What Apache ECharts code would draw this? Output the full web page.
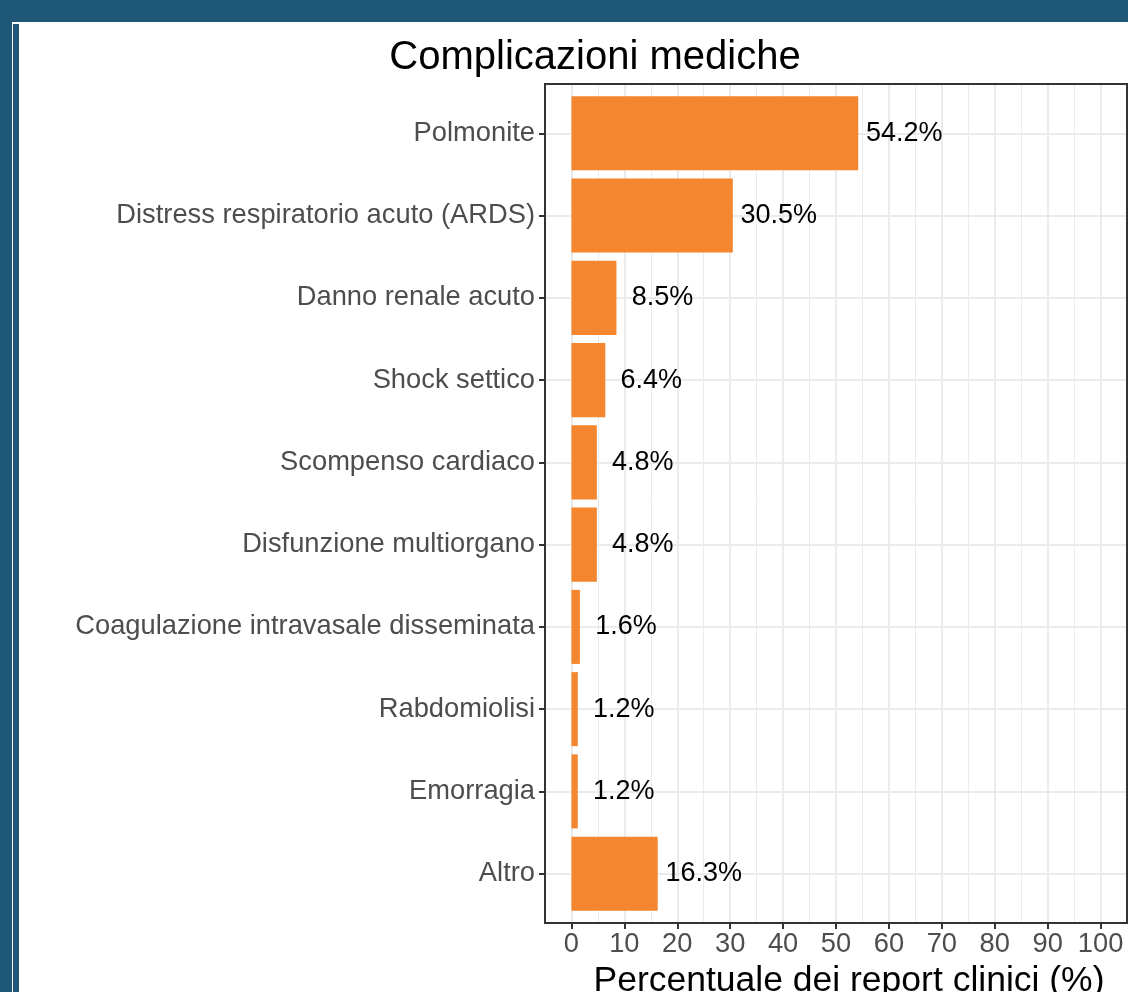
<!DOCTYPE html>
<html>
<head>
<meta charset="utf-8">
<script src="https://cdn.jsdelivr.net/npm/echarts@6/dist/echarts.min.js"></script>
<style>
  html, body { margin: 0; padding: 0; width: 1128px; height: 992px; overflow: hidden; background: #1e5678; }
  #frame { position: absolute; left: 12px; top: 22px; right: 0; bottom: 0; background: #ffffff; }
  #stripe { position: absolute; left: 13px; top: 24px; width: 6px; bottom: 0; background: #1e5678; }
  #chart { position: absolute; left: 0; top: 0; width: 1128px; height: 992px; }
</style>
</head>
<body>
<div id="frame"></div>
<div id="stripe"></div>
<div id="chart"></div>
<script>
const categories = [
  "Polmonite",
  "Distress respiratorio acuto (ARDS)",
  "Danno renale acuto",
  "Shock settico",
  "Scompenso cardiaco",
  "Disfunzione multiorgano",
  "Coagulazione intravasale disseminata",
  "Rabdomiolisi",
  "Emorragia",
  "Altro"
];
const values = [54.2, 30.5, 8.5, 6.4, 4.8, 4.8, 1.6, 1.2, 1.2, 16.3];
const xTicks = [0, 10, 20, 30, 40, 50, 60, 70, 80, 90, 100];
const titleText = "Complicazioni mediche";
const xTitle = "Percentuale dei report clinici (%)";

const FONT = "Liberation Sans, Arial, Helvetica, sans-serif";
const GRID_COL = "#ebebeb";
const AXIS_COL = "#333333";
const TEXT_GREY = "#4d4d4d";

// panel geometry (ggplot style expansion)
const panelLeft = 545, panelTop = 84, panelW = 582, panelH = 839;
const band = panelH / (categories.length + 0.2);
const barsTop = panelTop + 0.1 * band;
const barsH = band * categories.length;
const xMin = xTicks[0], xMax = xTicks[xTicks.length - 1];
const unitPx = panelW / ((xMax - xMin) * 1.1);
const innerLeft = panelLeft + 0.05 * (xMax - xMin) * unitPx;
const innerW = (xMax - xMin) * unitPx;

const gridBase = { containLabel: false, outerBoundsMode: 'none' };

const chart = echarts.init(document.getElementById('chart'), null, { renderer: 'canvas' });
chart.setOption({
  backgroundColor: 'transparent',
  animation: false,
  textStyle: { fontFamily: FONT },
  title: {
    text: titleText,
    left: 590,
    top: 33,
    textAlign: 'center',
    textStyle: { fontFamily: FONT, fontSize: 40, fontWeight: 'normal', color: '#000000' }
  },
  grid: [
    // 0: panel border
    Object.assign({ left: panelLeft, top: panelTop, width: panelW, height: panelH, show: true,
      borderColor: AXIS_COL, borderWidth: 2, backgroundColor: 'transparent', z: 3 }, gridBase),
    // 1: bars + category labels
    Object.assign({ left: panelLeft, top: barsTop, width: panelW, height: barsH }, gridBase),
    // 2: horizontal gridlines at category centres
    Object.assign({ left: panelLeft, top: barsTop + band / 2, width: panelW, height: barsH - band }, gridBase),
    // 3: x ticks, labels and vertical gridlines
    Object.assign({ left: innerLeft, top: panelTop, width: innerW, height: panelH }, gridBase)
  ],
  xAxis: [
    { gridIndex: 0, type: 'value', min: 0, max: 1, show: false },
    { gridIndex: 1, type: 'value', min: xMin - 0.05 * (xMax - xMin), max: xMax + 0.05 * (xMax - xMin), show: false },
    { gridIndex: 2, type: 'value', min: 0, max: 1, show: false },
    { gridIndex: 3, type: 'value', min: xMin, max: xMax, interval: 10,
      axisLine: { show: false, onZero: false },
      axisTick: { show: true, length: 6, lineStyle: { color: AXIS_COL, width: 2 } },
      minorTick: { show: false, splitNumber: 2 },
      splitLine: { show: true, lineStyle: { color: GRID_COL, width: 2 } },
      minorSplitLine: { show: true, lineStyle: { color: GRID_COL, width: 1 } },
      axisLabel: { color: TEXT_GREY, fontSize: 27.3, fontFamily: FONT, margin: 8,
        formatter: v => (xTicks.indexOf(v) >= 0 ? String(v) : '') },
      name: xTitle,
      nameLocation: 'middle',
      nameGap: 39,
      nameTextStyle: { color: '#000000', fontSize: 35.5, fontFamily: FONT, padding: [0, 0, 0, 26] }
    }
  ],
  yAxis: [
    { gridIndex: 0, type: 'value', show: false },
    { gridIndex: 1, type: 'category', inverse: true, data: categories,
      axisLine: { show: false, onZero: false },
      axisTick: { show: true, alignWithLabel: true, length: 6, lineStyle: { color: AXIS_COL, width: 2 } },
      axisLabel: { color: TEXT_GREY, fontSize: 27.3, fontFamily: FONT, margin: 10 },
      splitLine: { show: false }
    },
    { gridIndex: 2, type: 'category', inverse: true, data: categories, boundaryGap: false,
      axisLine: { show: false, onZero: false }, axisTick: { show: false }, axisLabel: { show: false },
      splitLine: { show: true, lineStyle: { color: GRID_COL, width: 2 } }
    },
    { gridIndex: 3, type: 'value', show: false }
  ],
  series: [
    {
      type: 'bar',
      xAxisIndex: 1,
      yAxisIndex: 1,
      data: values,
      barCategoryGap: '10%',
      itemStyle: { color: '#f3862e' },
      z: 4,
      label: {
        show: true,
        position: ['100%', '50%'],
        offset: [46, 0],
        align: 'center',
        verticalAlign: 'middle',
        color: '#000000',
        fontSize: 27,
        fontFamily: FONT,
        formatter: p => p.value.toFixed(1) + '%'
      }
    }
  ]
});
</script>
</body>
</html>
